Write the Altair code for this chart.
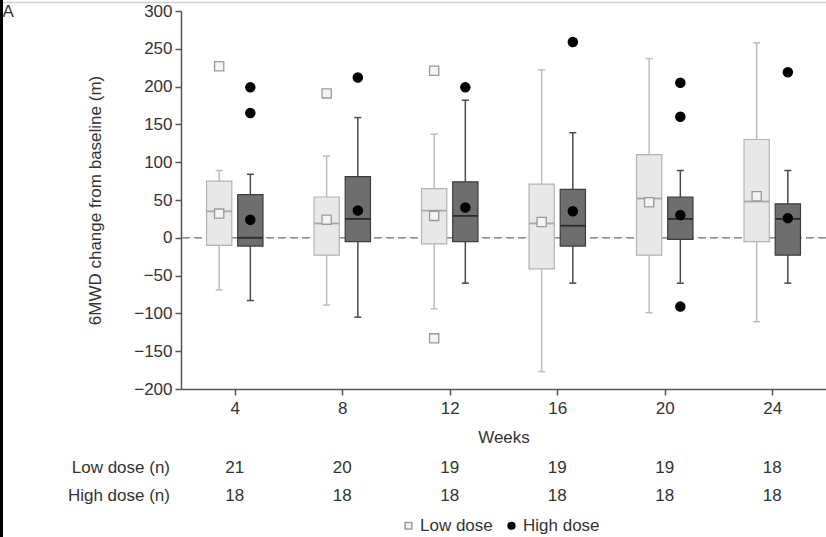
import altair as alt
import pandas as pd

weeks = [4, 8, 12, 16, 20, 24]
groups = ["Low dose", "High dose"]

low_q1 = [-10, -23, -8, -41, -23, -5]
low_q3 = [75, 54, 65, 71, 110, 130]
low_med = [35, 19, 36, 19, 52, 48]
low_mean = [32, 24, 29, 21, 47, 55]
low_wlo = [-69, -89, -94, -177, -99, -111]
low_whi = [89, 108, 137, 222, 237, 258]

high_q1 = [-11, -5, -5, -11, -2, -23]
high_q3 = [57, 81, 74, 64, 54, 45]
high_med = [0, 25, 29, 16, 25, 25]
high_mean = [24, 36, 40, 35, 30, 26]
high_wlo = [-83, -105, -60, -60, -60, -60]
high_whi = [84, 159, 182, 139, 89, 89]

low_out_week = [4, 8, 12, 12]
low_out_val = [227, 191, 221, -133]
high_out_week = [4, 4, 8, 12, 16, 20, 20, 20, 24]
high_out_val = [199, 165, 212, 199, 259, 205, 160, -91, 219]

n_low = [21, 20, 19, 19, 19, 18]
n_high = [18, 18, 18, 18, 18, 18]
row_labels = ["Low dose (n)", "High dose (n)"]
panel_label = ["A"]

FONT = "Liberation Sans"
TXT = "#333333"

box = pd.concat([
    pd.DataFrame({"week": weeks, "group": "Low dose", "q1": low_q1, "q3": low_q3,
                  "med": low_med, "mean": low_mean, "wlo": low_wlo, "whi": low_whi}),
    pd.DataFrame({"week": weeks, "group": "High dose", "q1": high_q1, "q3": high_q3,
                  "med": high_med, "mean": high_mean, "wlo": high_wlo, "whi": high_whi}),
], ignore_index=True)

outl = pd.concat([
    pd.DataFrame({"week": low_out_week, "group": "Low dose", "value": low_out_val}),
    pd.DataFrame({"week": high_out_week, "group": "High dose", "value": high_out_val}),
], ignore_index=True)

counts = pd.DataFrame({"week": weeks, "nlow": n_low, "nhigh": n_high})

xscale = alt.Scale(domain=[2, 26], nice=False, zero=False)
yscale = alt.Scale(domain=[-200, 300], nice=False, zero=False)
xaxis = alt.Axis(values=weeks, title="Weeks", grid=False, labelFontSize=17, titleFontSize=17,
                 labelFont=FONT, titleFont=FONT, labelColor=TXT, titleColor=TXT, titleFontWeight="normal",
                 domainColor="#555555", domainWidth=1.5, tickColor="#555555", tickWidth=1.5, tickSize=6,
                 labelPadding=5, titlePadding=13)
yaxis = alt.Axis(values=list(range(-200, 301, 50)), title="6MWD change from baseline (m)", grid=False,
                 labelFontSize=17, titleFontSize=17, labelFont=FONT, titleFont=FONT, labelColor=TXT,
                 titleColor=TXT, titleFontWeight="normal", domainColor="#555555", domainWidth=1.5,
                 tickColor="#555555", tickWidth=1.5, tickSize=6, labelPadding=3,
                 titleX=-86, titleY=189, titleAngle=-90, titleAlign="center", titleBaseline="middle")


def X(f):
    return alt.X(f, type="quantitative", scale=xscale, axis=xaxis)


def Y(f):
    return alt.Y(f, type="quantitative", scale=yscale, axis=yaxis)


OFF = 0.58
HALF = 0.47
CAP = 0.13

base = alt.Chart(box).transform_calculate(
    xc="datum.group == 'Low dose' ? datum.week - %f : datum.week + %f" % (OFF, OFF)
).transform_calculate(
    xl="datum.xc - %f" % HALF, xr="datum.xc + %f" % HALF,
    cl="datum.xc - %f" % CAP, cr="datum.xc + %f" % CAP,
)

zero = alt.Chart(counts.head(1)).mark_rule(color="#6f6f6f", strokeDash=[8, 4], strokeWidth=1.3).encode(
    y=alt.Y("z:Q", scale=yscale, axis=yaxis)).transform_calculate(z="0")

styles = {
    "Low dose": dict(fill="#e8e8e8", stroke="#b3b3b3", med="#a8a8a8", whisk="#bdbdbd"),
    "High dose": dict(fill="#6e6e6e", stroke="#3c3c3c", med="#2a2a2a", whisk="#4a4a4a"),
}

layers = [zero]
for g in groups:
    s = styles[g]
    b = base.transform_filter(alt.datum.group == g)
    layers.append(b.mark_rule(color=s["whisk"], strokeWidth=1.5).encode(x=X("xc"), y=Y("wlo"), y2="whi"))
    layers.append(b.mark_rule(color=s["whisk"], strokeWidth=1.5).encode(x=X("cl"), x2="cr", y=Y("wlo")))
    layers.append(b.mark_rule(color=s["whisk"], strokeWidth=1.5).encode(x=X("cl"), x2="cr", y=Y("whi")))
    layers.append(b.mark_rect(fill=s["fill"], stroke=s["stroke"], strokeWidth=1.2).encode(
        x=X("xl"), x2="xr", y=Y("q1"), y2="q3"))
    layers.append(b.mark_rule(color=s["med"], strokeWidth=1.8).encode(x=X("xl"), x2="xr", y=Y("med")))

shape_s = alt.Scale(domain=groups, range=["square", "circle"])
fill_s = alt.Scale(domain=groups, range=["#f4f4f4", "#000000"])
stroke_s = alt.Scale(domain=groups, range=["#9a9a9a", "#000000"])
leg = alt.Legend(title=None, orient="none", legendX=219, legendY=506, direction="horizontal",
                 labelFontSize=17, labelFont=FONT, labelColor=TXT, symbolSize=45,
                 columnPadding=10, padding=0, labelOffset=3)

means = base.mark_point(filled=True, size=85, strokeWidth=1.3, opacity=1).encode(
    x=X("xc"), y=Y("mean"),
    shape=alt.Shape("group:N", scale=shape_s, legend=leg),
    fill=alt.Fill("group:N", scale=fill_s, legend=leg),
    stroke=alt.Stroke("group:N", scale=stroke_s, legend=leg),
)
outs = alt.Chart(outl).transform_calculate(
    xc="datum.group == 'Low dose' ? datum.week - %f : datum.week + %f" % (OFF, OFF)
).mark_point(filled=True, size=85, strokeWidth=1.3, opacity=1).encode(
    x=X("xc"), y=Y("value"),
    shape=alt.Shape("group:N", scale=shape_s, legend=leg),
    fill=alt.Fill("group:N", scale=fill_s, legend=leg),
    stroke=alt.Stroke("group:N", scale=stroke_s, legend=leg),
)
layers += [means, outs]

tlow = alt.Chart(counts).mark_text(fontSize=17, font=FONT, color=TXT, baseline="middle").encode(
    x=X("week"), y=alt.value(457), text="nlow:Q")
thigh = alt.Chart(counts).mark_text(fontSize=17, font=FONT, color=TXT, baseline="middle").encode(
    x=X("week"), y=alt.value(485), text="nhigh:Q")
rl = pd.DataFrame({"label": row_labels, "yy": [457, 485]})
rows = alt.Chart(rl).mark_text(fontSize=17, font=FONT, color=TXT, baseline="middle", align="right").encode(
    x=alt.value(-11), y=alt.Y("yy:Q", scale=None), text="label:N")
plab = alt.Chart(pd.DataFrame({"t": panel_label})).mark_text(
    fontSize=17, font=FONT, color=TXT, align="left", baseline="top").encode(
    x=alt.value(-178.5), y=alt.value(-7), text="t:N")
topline = alt.Chart(pd.DataFrame({"t": panel_label})).mark_rule(color="#d0d0d0", strokeWidth=1.5).encode(
    x=alt.value(-181), x2=alt.value(645), y=alt.value(-8.5))
leftbar = alt.Chart(pd.DataFrame({"t": panel_label})).mark_rule(color="#000000", strokeWidth=3).encode(
    x=alt.value(-179.5), y=alt.value(-11), y2=alt.value(526))

layers += [tlow, thigh, rows, plab, topline, leftbar]

chart = alt.layer(*layers).properties(
    width=645, height=378,
    padding={"left": 181, "top": 11, "right": 0, "bottom": 148},
    autosize="none", background="white",
).configure_view(stroke=None)

chart.save("out.html", embed_options={"renderer": "svg", "actions": False})
